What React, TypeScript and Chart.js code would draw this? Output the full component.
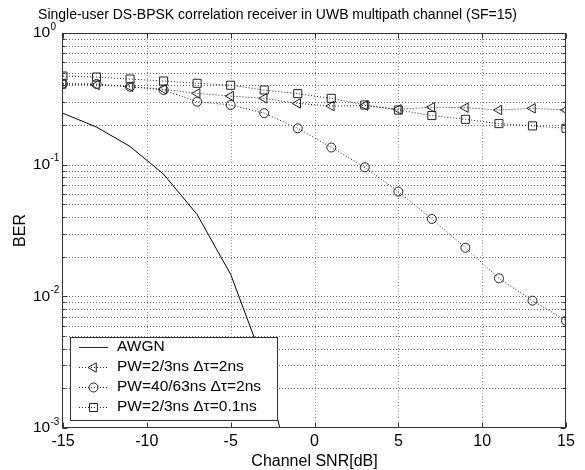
import React, { useEffect, useRef } from 'react';
import { Chart, registerables } from 'chart.js';

Chart.register(...registerables);

const FONT = '"Liberation Sans", Arial, Helvetica, sans-serif';

const TITLE = 'Single-user DS-BPSK correlation receiver in UWB multipath channel (SF=15)';
const X_LABEL = 'Channel SNR[dB]';
const Y_LABEL = 'BER';
const X_TICKS = [-15, -10, -5, 0, 5, 10, 15];
const Y_DECADE_EXPONENTS = [-3, -2, -1, 0];
const Y_MINOR_MULTIPLIERS = [2, 3, 4, 5, 6, 7, 8, 9];

const SNR_AWGN = [-15, -13, -11, -9, -7, -5, -3, -1];
const BER_AWGN = [0.2455, 0.193, 0.1375, 0.0847, 0.0418, 0.0147, 0.00305, 0.000278];

const SNR = [-15, -13, -11, -9, -7, -5, -3, -1, 1, 3, 5, 7, 9, 11, 13, 15];
const BER_PW23_DT2 = [0.412, 0.403, 0.391, 0.374, 0.348, 0.332, 0.319, 0.292, 0.279, 0.281, 0.263, 0.273, 0.271, 0.26, 0.268, 0.26];
const BER_PW4063_DT2 = [0.41, 0.41, 0.391, 0.369, 0.301, 0.284, 0.246, 0.189, 0.135, 0.0955, 0.0624, 0.0387, 0.0234, 0.0137, 0.00927, 0.00654];
const BER_PW23_DT01 = [0.471, 0.463, 0.447, 0.432, 0.415, 0.401, 0.369, 0.346, 0.319, 0.284, 0.26, 0.236, 0.221, 0.205, 0.197, 0.189];

const LEGEND_LABELS = ['AWGN', 'PW=2/3ns \u0394\u03c4=2ns', 'PW=40/63ns \u0394\u03c4=2ns', 'PW=2/3ns \u0394\u03c4=0.1ns'];

const LINE_COLOR = '#222';

function drawMarker(ctx: CanvasRenderingContext2D, kind: string, x: number, y: number) {
  ctx.beginPath();
  if (kind === 'circle') {
    ctx.arc(x, y, 4.5, 0, Math.PI * 2);
  } else if (kind === 'triangle') {
    const r = 5.5;
    ctx.moveTo(x - r, y);
    ctx.lineTo(x + r / 2, y - (r * Math.sqrt(3)) / 2);
    ctx.lineTo(x + r / 2, y + (r * Math.sqrt(3)) / 2);
    ctx.closePath();
  } else if (kind === 'rect') {
    ctx.rect(x - 4, y - 4, 8, 8);
  }
  ctx.stroke();
}

const decorPlugin = {
  id: 'decor',
  beforeDatasetsDraw(chart: any) {
    const { ctx, chartArea: a, scales } = chart;
    const x = scales.x;
    const y = scales.y;
    ctx.save();
    ctx.lineWidth = 1;
    ctx.setLineDash([1, 2]);
    ctx.strokeStyle = '#666';
    Y_DECADE_EXPONENTS.forEach((e) => {
      const mults = e === 0 ? [1] : [1, ...Y_MINOR_MULTIPLIERS];
      mults.forEach((m) => {
        const v = m * Math.pow(10, e);
        const py = Math.round(y.getPixelForValue(v)) + 0.5;
        if (py <= a.top + 1 || py >= a.bottom - 1) return;
        ctx.beginPath();
        ctx.moveTo(a.left, py);
        ctx.lineTo(a.right, py);
        ctx.stroke();
      });
    });
    ctx.strokeStyle = '#999';
    X_TICKS.forEach((v) => {
      const px = Math.round(x.getPixelForValue(v)) + 0.5;
      if (px <= a.left + 1 || px >= a.right - 1) return;
      ctx.beginPath();
      ctx.moveTo(px, a.top);
      ctx.lineTo(px, a.bottom);
      ctx.stroke();
    });
    ctx.restore();
  },
  afterDraw(chart: any) {
    const { ctx, chartArea: a, scales } = chart;
    const x = scales.x;
    const y = scales.y;
    ctx.save();
    ctx.setLineDash([]);
    ctx.lineWidth = 1;
    ctx.strokeStyle = '#333';
    const L = Math.round(a.left) - 0.5;
    const R = Math.round(a.right) - 0.5;
    const T = Math.round(a.top) + 0.5;
    const B = Math.round(a.bottom) - 0.5;
    ctx.strokeRect(L, T, R - L, B - T);
    ctx.beginPath();
    X_TICKS.forEach((v) => {
      const px = Math.round(x.getPixelForValue(v)) + 0.5;
      ctx.moveTo(px, B);
      ctx.lineTo(px, B - 5);
      ctx.moveTo(px, T);
      ctx.lineTo(px, T + 5);
    });
    Y_DECADE_EXPONENTS.forEach((e) => {
      const mults = e === 0 ? [1] : [1, ...Y_MINOR_MULTIPLIERS];
      mults.forEach((m) => {
        const py = Math.round(y.getPixelForValue(m * Math.pow(10, e))) + 0.5;
        const len = m === 1 ? 5 : 3;
        ctx.moveTo(L, py);
        ctx.lineTo(L + len, py);
        ctx.moveTo(R, py);
        ctx.lineTo(R - len, py);
      });
    });
    ctx.stroke();

    ctx.fillStyle = '#000';
    ctx.font = `16px ${FONT}`;
    ctx.textAlign = 'center';
    ctx.textBaseline = 'middle';
    X_TICKS.forEach((v) => {
      ctx.fillText(String(v), x.getPixelForValue(v), a.bottom + 14);
    });
    Y_DECADE_EXPONENTS.forEach((e) => {
      const py = y.getPixelForValue(Math.pow(10, e));
      ctx.font = `15.5px ${FONT}`;
      ctx.textAlign = 'left';
      ctx.textBaseline = 'middle';
      ctx.fillText('10', 33, py);
      ctx.font = `10px ${FONT}`;
      ctx.textBaseline = 'alphabetic';
      ctx.fillText(String(e), 50.5, py - 3.5);
    });

    ctx.font = `16px ${FONT}`;
    ctx.textAlign = 'center';
    ctx.textBaseline = 'middle';
    ctx.fillText(X_LABEL, (a.left + a.right) / 2, 462);
    ctx.save();
    ctx.translate(21, (a.top + a.bottom) / 2);
    ctx.rotate(-Math.PI / 2);
    ctx.fillText(Y_LABEL, 0, 0);
    ctx.restore();

    ctx.font = `14px ${FONT}`;
    ctx.textAlign = 'center';
    ctx.fillText(TITLE, 277.5, 15);

    const bx = 70.5, by = 337.5, bw = 207, bh = 83;
    ctx.fillStyle = '#fff';
    ctx.fillRect(bx, by, bw, bh);
    ctx.strokeStyle = '#333';
    ctx.strokeRect(bx, by, bw, bh);
    const markers = ['', 'triangle', 'circle', 'rect'];
    LEGEND_LABELS.forEach((label, i) => {
      const ry = 347 + i * 20;
      ctx.strokeStyle = LINE_COLOR;
      ctx.lineWidth = 1;
      if (i === 0) ctx.setLineDash([]);
      else ctx.setLineDash([1, 2]);
      ctx.beginPath();
      ctx.moveTo(79, ry + 0.5);
      ctx.lineTo(108, ry + 0.5);
      ctx.stroke();
      ctx.setLineDash([]);
      if (markers[i]) drawMarker(ctx, markers[i], 93.5, ry + 0.5);
      ctx.fillStyle = '#000';
      ctx.font = `15.5px ${FONT}`;
      ctx.textAlign = 'left';
      ctx.textBaseline = 'middle';
      ctx.fillText(label, 117, ry);
    });
    ctx.restore();
  },
};

export default function App() {
  const canvasRef = useRef<HTMLCanvasElement | null>(null);

  useEffect(() => {
    const canvas = canvasRef.current;
    if (!canvas) return;
    const toPoints = (xs: number[], ys: number[]) => xs.map((v, i) => ({ x: v, y: ys[i] }));
    const markerCommon = {
      borderColor: LINE_COLOR,
      borderWidth: 1,
      borderDash: [1, 2],
      backgroundColor: 'rgba(0,0,0,0)',
      pointBackgroundColor: 'rgba(0,0,0,0)',
      pointBorderColor: LINE_COLOR,
      pointBorderWidth: 1,
      fill: false,
      tension: 0,
    };
    const chart = new Chart(canvas, {
      type: 'line',
      data: {
        datasets: [
          {
            label: LEGEND_LABELS[0],
            data: toPoints(SNR_AWGN, BER_AWGN),
            borderColor: '#000',
            borderWidth: 1,
            pointRadius: 0,
            fill: false,
            tension: 0,
          },
          {
            label: LEGEND_LABELS[1],
            data: toPoints(SNR, BER_PW23_DT2),
            ...markerCommon,
            pointStyle: 'triangle',
            pointRotation: -90,
            pointRadius: 5.5,
          },
          {
            label: LEGEND_LABELS[2],
            data: toPoints(SNR, BER_PW4063_DT2),
            ...markerCommon,
            pointStyle: 'circle',
            pointRadius: 4.5,
          },
          {
            label: LEGEND_LABELS[3],
            data: toPoints(SNR, BER_PW23_DT01),
            ...markerCommon,
            pointStyle: 'rect',
            pointRadius: 5.7,
          },
        ],
      } as any,
      options: {
        responsive: false,
        animation: false,
        devicePixelRatio: 1,
        layout: { padding: { left: 63, right: 19, top: 33, bottom: 42 } },
        plugins: {
          legend: { display: false },
          title: { display: false },
          tooltip: { enabled: false },
        },
        scales: {
          x: { type: 'linear', min: -15, max: 15, display: false },
          y: { type: 'logarithmic', min: 0.001, max: 1, display: false },
        },
      } as any,
      plugins: [decorPlugin],
    });
    return () => chart.destroy();
  }, []);

  return (
    <div style={{ position: 'absolute', left: 0, top: 0, width: 585, height: 470, background: '#fff' }}>
      <canvas ref={canvasRef} width={585} height={470} style={{ display: 'block' }} />
    </div>
  );
}
